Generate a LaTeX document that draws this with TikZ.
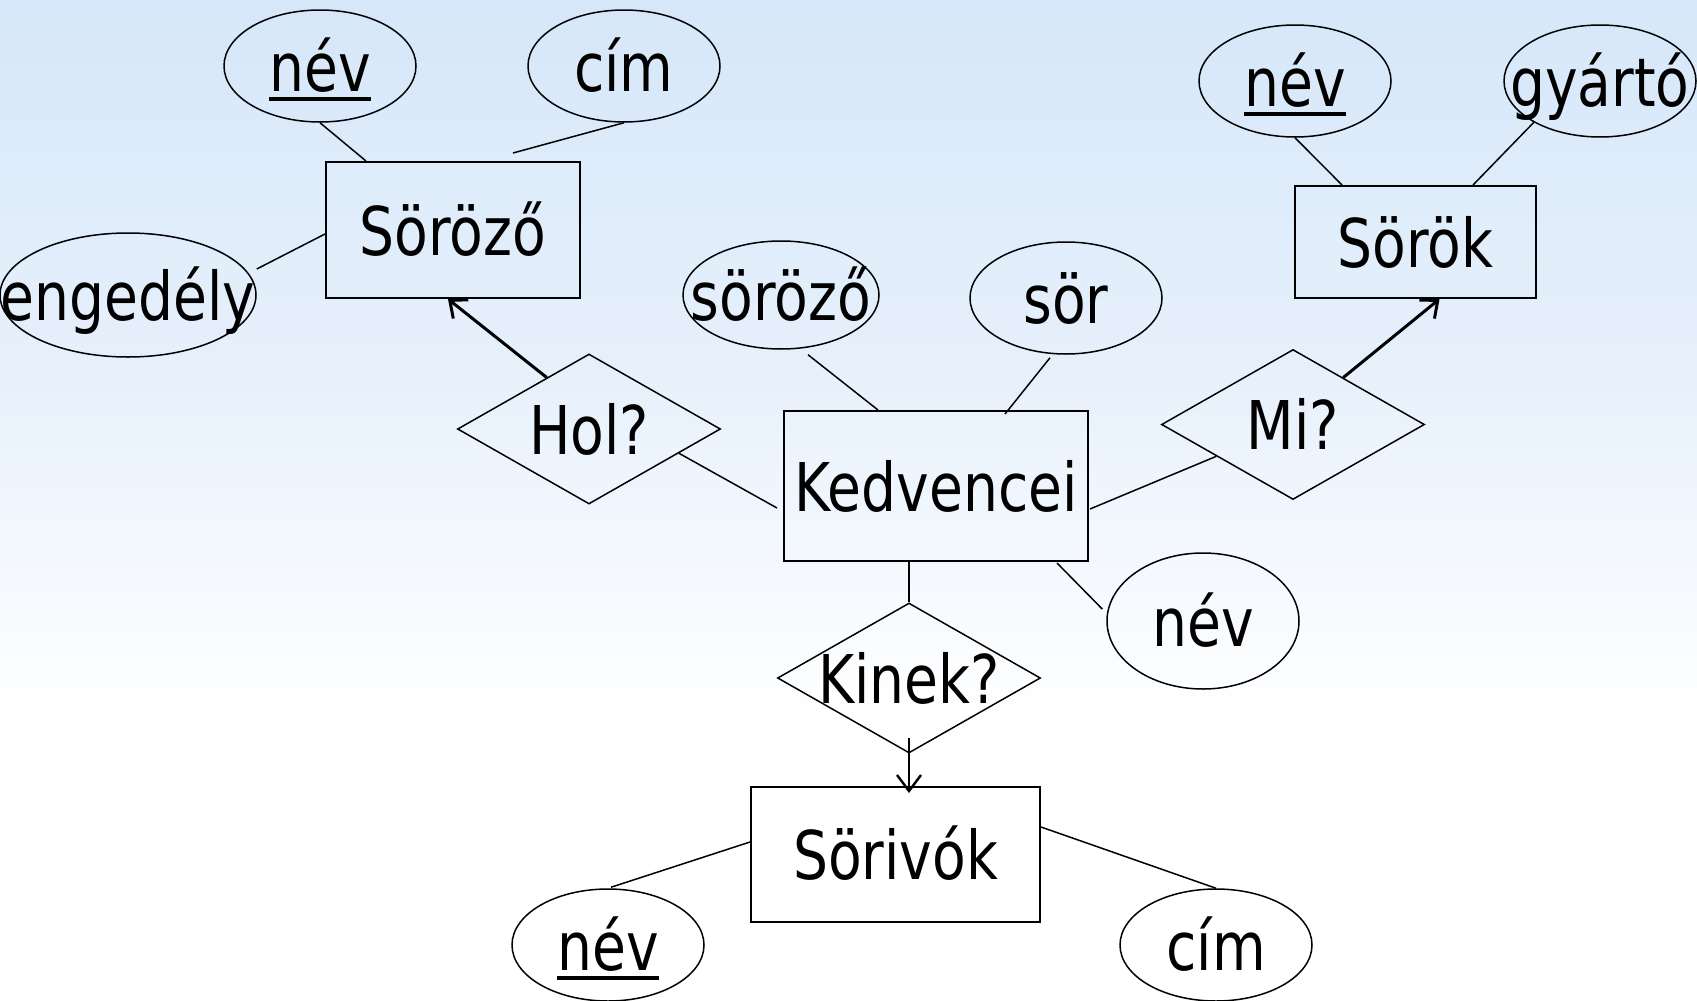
\documentclass[tikz,border=0pt]{standalone}
\usepackage{fontspec}
\setmainfont{DejaVu Sans}[FakeStretch=0.82]
\usetikzlibrary{shapes.geometric,calc,arrows.meta}
\definecolor{sky}{RGB}{214,231,249}
\definecolor{skymid}{RGB}{230,240,251}
\newcommand{\ulword}[1]{\setbox0\hbox{#1}\rlap{\rule[-5pt]{\wd0}{2pt}}\box0}
\newcommand{\zw}[1]{\makebox[0pt]{#1}}
\begin{document}
\begin{tikzpicture}[x=0.5pt,y=-0.5pt,
  every node/.style={font=\fontsize{33.6}{40}\selectfont, inner sep=0pt, text height=25pt, text depth=0pt},
  ent/.style={draw, line width=1pt, rectangle},
  attr/.style={draw, line width=0.75pt, ellipse, minimum width=96pt, minimum height=56pt},
  rel/.style={draw, line width=0.75pt, diamond, minimum width=131.5pt, minimum height=75pt},
  conn/.style={line width=0.75pt},
  arr/.style={line width=1.5pt, -{Straight Barb[length=7pt,width=12pt]}},
  arrthin/.style={line width=1.2pt, -{Straight Barb[length=8pt,width=12pt]}},
]
\useasboundingbox (0,0) rectangle (1697,1001);
\fill[white] (0,0) rectangle (1697,1001);
\shade[top color=sky, bottom color=white, middle color=skymid] (0,0) rectangle (1697,720);

% entities
\node[ent, minimum width=127pt, minimum height=68pt] (sorozo) at (453,230) {Söröző};
\node[ent, minimum width=152pt, minimum height=75pt] (kedv) at (936,486) {Kedvencei};
\node[ent, minimum width=120.5pt, minimum height=56pt] (sorok) at (1415.5,242) {Sörök};
\node[ent, minimum width=144.5pt, minimum height=67.5pt] (sorivok) at (895.5,854.5) {Sörivók};

% relationships
\node[rel] (hol) at (589,429) {\zw{Hol?}};
\node[rel] (mi) at (1293,424.5) {\zw{Mi?}};
\node[rel] (kinek) at (909,678) {\zw{Kinek?}};

% attributes
\node[attr] (nevA) at (320,66) {\zw{\ulword{név}}};
\node[attr] (cimA) at (624,66) {\zw{cím}};
\node[attr, minimum width=128pt, minimum height=62pt] (engedely) at (128,295) {\zw{engedély}};
\node[attr, minimum width=98pt, minimum height=54pt] (sorozoB) at (781,295) {\zw{söröző}};
\node[attr] (sor) at (1066,298) {\zw{sör}};
\node[attr] (nevB) at (1295,81) {\zw{\ulword{név}}};
\node[attr] (gyarto) at (1600,81) {\zw{gyártó}};
\node[attr, minimum height=68pt] (nevK) at (1203,621) {\zw{név}};
\node[attr] (nevC) at (608,945) {\zw{\ulword{név}}};
\node[attr] (cimC) at (1216,945) {\zw{cím}};

% attribute connectors
\draw[conn] (nevA.south) -- ($(sorozo.north west)+(41,0)$);
\draw[conn] (cimA.south) -- ($(sorozo.north east)+(-68,-8)$);
\draw[conn] ($(engedely.east)+(0,-26)$) -- ($(sorozo.west)+(0,4)$);
\draw[conn] ($(sorozoB.south)+(27,5)$) -- ($(kedv.north west)+(95,0)$);
\draw[conn] ($(sor.south)+(-16,3)$) -- ($(kedv.north east)+(-84,4)$);
\draw[conn] (nevB.south) -- ($(sorok.north west)+(48,0)$);
\draw[conn] (gyarto.212) -- ($(sorok.north east)+(-64,0)$);
\draw[conn] ($(kedv.south east)+(-32,1)$) -- ($(nevK.west)+(-4,-12)$);
\draw[conn] ($(nevC.north)+(3,-1)$) -- ($(sorivok.west)+(0,-12.5)$);
\draw[conn] (cimC.north) -- ($(sorivok.east)+(0,-27.5)$);

% relationship connectors
\draw[conn] ($(hol.east)!0.32!(hol.south)$) -- ($(kedv.west)+(-6,22)$);
\draw[conn] ($(kedv.east)+(1,23)$) -- ($(mi.west)!0.42!(mi.south)$);
\draw[conn] (kinek.north) -- (kinek.north |- kedv.south);
\draw[arr] ($(hol.north)!0.32!(hol.west)$) -- ($(sorozo.south)+(-5,0)$);
\draw[arr] ($(mi.north)!0.38!(mi.east)$) -- ($(sorok.south)+(24,0)$);
\draw[arrthin] ($(kinek.south)+(0,-16)$) -- ($(kinek.south |- sorivok.north)+(0,7)$);
\end{tikzpicture}
\end{document}
